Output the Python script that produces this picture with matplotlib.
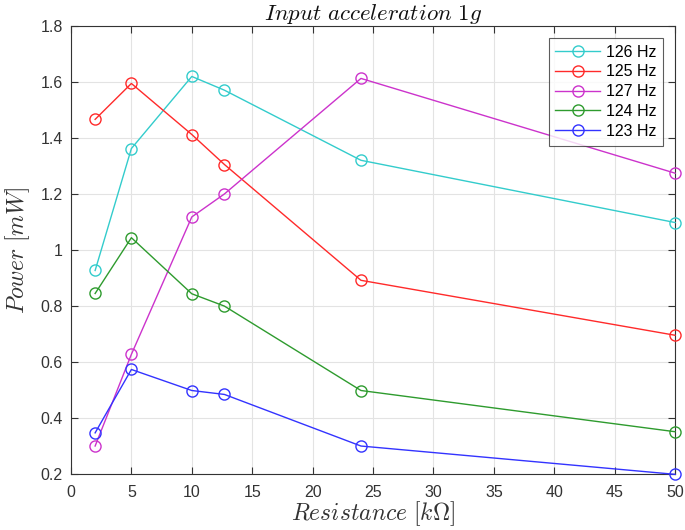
import matplotlib
matplotlib.use("Agg")
import matplotlib.pyplot as plt

plt.rcParams['font.family'] = ['Liberation Sans', 'DejaVu Sans']
plt.rcParams['mathtext.fontset'] = 'cm'

resistance = [2, 5, 10, 12.7, 24, 50]
labels = ['126 Hz', '125 Hz', '127 Hz', '124 Hz', '123 Hz']
p126 = [0.927, 1.362, 1.619, 1.570, 1.320, 1.098]
p125 = [1.466, 1.594, 1.412, 1.305, 0.892, 0.696]
p127 = [0.301, 0.628, 1.118, 1.200, 1.612, 1.274]
p124 = [0.845, 1.044, 0.844, 0.800, 0.499, 0.352]
p123 = [0.348, 0.574, 0.499, 0.485, 0.301, 0.200]
series = [p126, p125, p127, p124, p123]
colors = ['#33CCCC', '#FF2A2A', '#CC33CC', '#2E9B2E', '#3333FF']

xticks = [0, 5, 10, 15, 20, 25, 30, 35, 40, 45, 50]
yticks = [0.2, 0.4, 0.6, 0.8, 1.0, 1.2, 1.4, 1.6, 1.8]
yticklabels = ['0.2', '0.4', '0.6', '0.8', '1', '1.2', '1.4', '1.6', '1.8']

fig = plt.figure(figsize=(6.85, 5.3), dpi=100)
ax = fig.add_axes([0.1036, 0.105, 0.882, 0.8465])

for vals, lab, c in zip(series, labels, colors):
    ax.plot(resistance, vals, color=c, lw=1.0, marker='o', markersize=8,
            markerfacecolor='none', markeredgecolor=c, markeredgewidth=1.0,
            label=lab, clip_on=False, zorder=3)

ax.set_xlim(0, 50)
ax.set_ylim(0.2, 1.8)
ax.set_xticks(xticks)
ax.set_yticks(yticks)
ax.set_yticklabels(yticklabels)
ax.grid(True, color='#E3E3E3', lw=0.8)
ax.set_axisbelow(True)
for s in ax.spines.values():
    s.set_color('#333333')
    s.set_linewidth(0.8)
ax.tick_params(axis='both', direction='in', length=5, width=0.8,
               colors='#333333', labelsize=11.5, top=True, right=True,
               labeltop=False, labelright=False, pad=6)
ax.tick_params(axis='x', pad=8)

ax.set_title(r'$Input\ acceleration\ 1g$', fontsize=16.5, pad=4, color='#111111')
ax.set_xlabel(r'$Resistance\ [k\Omega]$', fontsize=17, color='#333333', labelpad=-1)
ax.set_ylabel(r'$Power\ [mW]$', fontsize=17, color='#333333', labelpad=6)

leg = ax.legend(loc='upper right', bbox_to_anchor=(0.9796, 0.9726), fontsize=11.5,
                frameon=True, fancybox=False, edgecolor='#333333',
                handlelength=2.8, handletextpad=0.35, borderpad=0.42,
                labelspacing=0.3, borderaxespad=0)
leg.get_frame().set_linewidth(0.8)

fig.savefig('out.png', dpi=100)
